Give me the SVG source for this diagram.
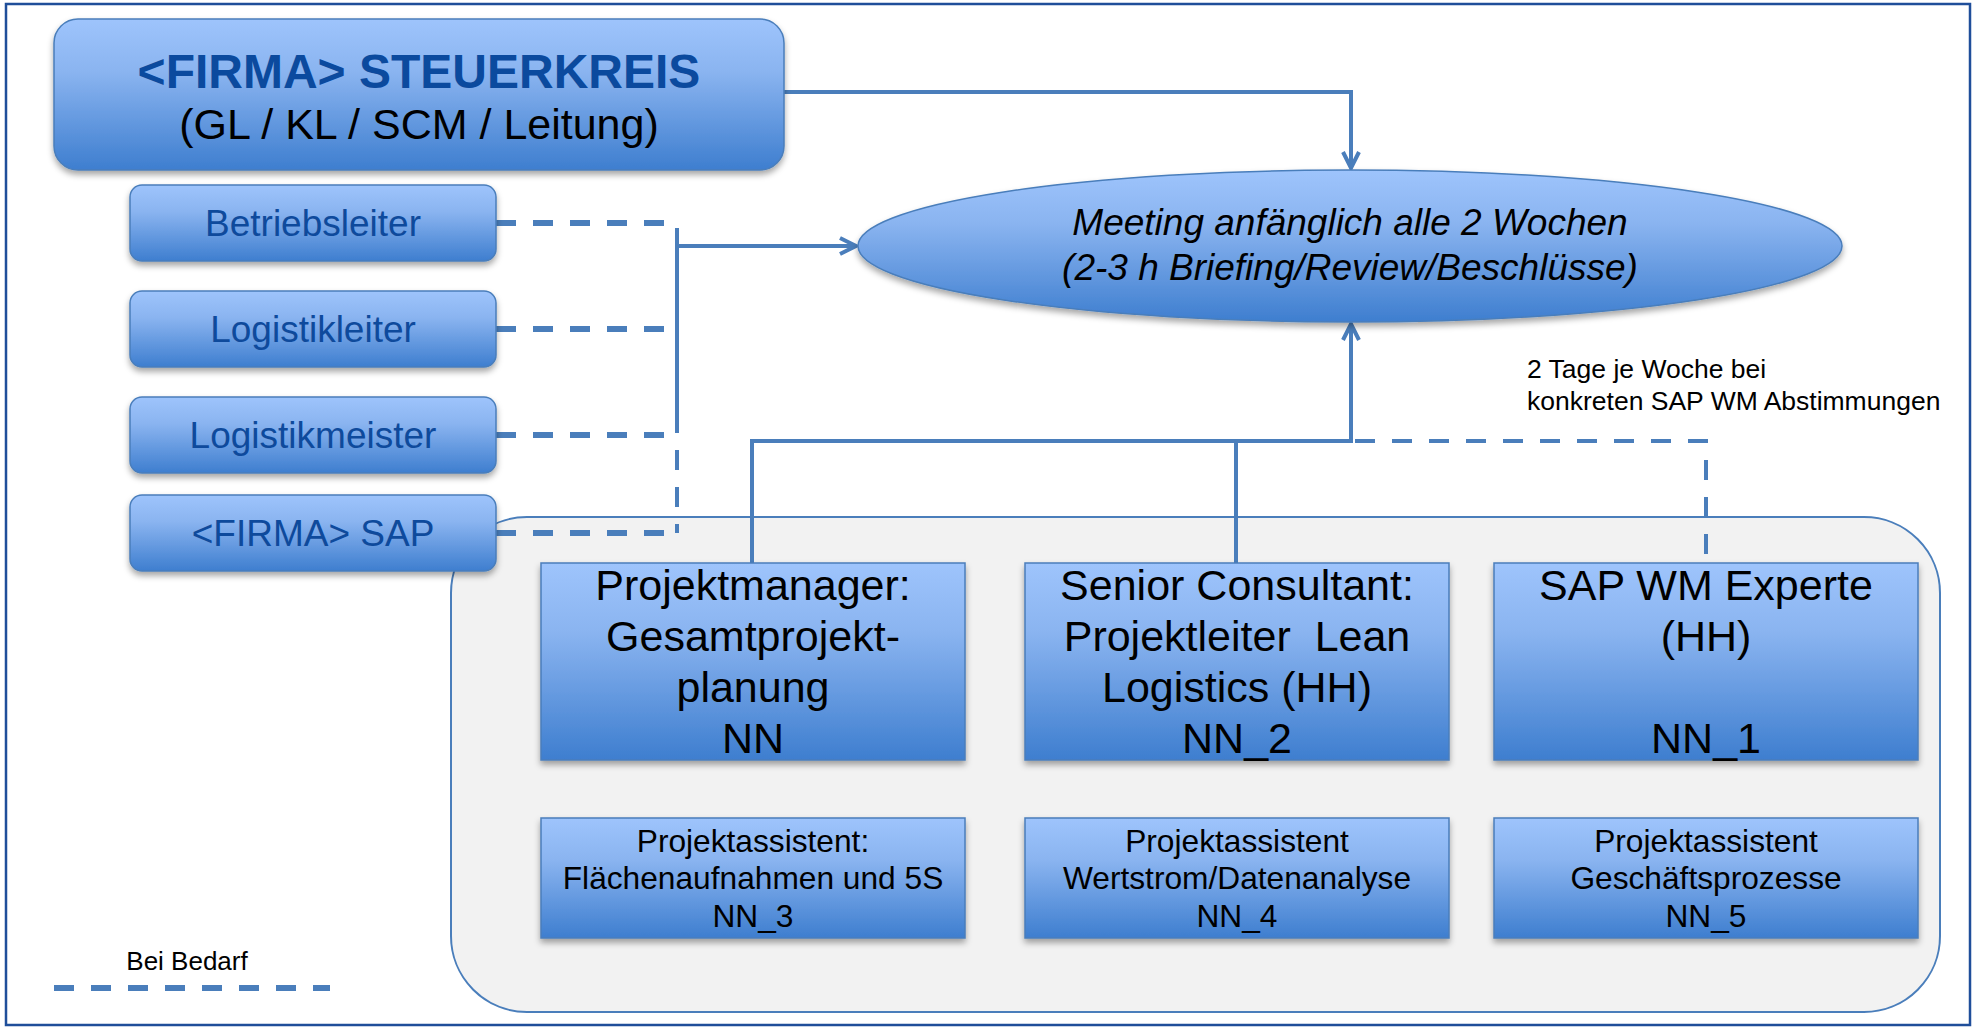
<svg xmlns="http://www.w3.org/2000/svg" width="1976" height="1027" viewBox="0 0 1976 1027">
<defs>
<linearGradient id="gb" x1="0" y1="0" x2="0" y2="1">
<stop offset="0" stop-color="#9EC4FC"/>
<stop offset="0.35" stop-color="#8AB4F0"/>
<stop offset="1" stop-color="#3E7ECF"/>
</linearGradient>
<filter id="sh" x="-10%" y="-10%" width="120%" height="130%">
<feDropShadow dx="0" dy="4" stdDeviation="3" flood-color="#000" flood-opacity="0.35"/>
</filter>
<marker id="arr" viewBox="0 0 20 20" refX="18" refY="10" markerWidth="20" markerHeight="20" markerUnits="userSpaceOnUse" orient="auto">
<path d="M2,2 L18,10 L2,18" fill="none" stroke="#4A7EBB" stroke-width="4"/>
</marker>
<style>
.box{fill:url(#gb);stroke:#4A7EBB;stroke-width:1.5;filter:url(#sh)}
.conn{fill:none;stroke:#4A7EBB;stroke-width:4}
.dash{fill:none;stroke:#4A7EBB;stroke-width:6;stroke-dasharray:20 17}
.dashv{fill:none;stroke:#4A7EBB;stroke-width:4;stroke-dasharray:20 17}
.t{font-family:"Liberation Sans",Arial,sans-serif;text-anchor:middle}
.lb{fill:#0E4A9C;font-size:37px}
.big{fill:#000;font-size:43px}
.small{fill:#000;font-size:31.7px}
</style>
</defs>
<rect x="6" y="4" width="1964" height="1021" fill="#fff" stroke="#1F4E9A" stroke-width="2.5"/>

<g id="container">
<rect x="451" y="517" width="1489" height="495" rx="76" ry="76" fill="#F2F2F2" stroke="#4A7EBB" stroke-width="2"/>
</g>

<g id="connectors">
<polyline class="conn" points="784,92 1351,92 1351,168" marker-end="url(#arr)"/>
<polyline class="dash" points="496,223 665,223"/>
<polyline class="dash" points="496,329 665,329"/>
<polyline class="dash" points="496,435 665,435"/>
<polyline class="dash" points="496,533 665,533"/>
<polyline class="dashv" points="677,228 677,533"/>
<polyline class="conn" points="677,228 677,430" stroke-width="3"/>
<polyline class="conn" points="677,246 856,246" marker-end="url(#arr)"/>
<polyline class="conn" points="752,563 752,441 1351,441 1351,324" marker-end="url(#arr)"/>
<polyline class="conn" points="1236,563 1236,441"/>
<polyline class="dashv" points="1355,441 1706,441 1706,563"/>
<polyline class="dash" points="54,988 330,988"/>
</g>

<g id="steuerkreis">
<rect class="box" x="54" y="19" width="730" height="151" rx="24" ry="24"/>
<text class="t" x="419" y="88" font-size="48" font-weight="bold" fill="#0B4A9E">&lt;FIRMA&gt; STEUERKREIS</text>
<text class="t" x="419" y="139" font-size="43" fill="#000">(GL / KL / SCM / Leitung)</text>
</g>

<g id="meeting">
<ellipse cx="1350" cy="246" rx="492" ry="76" fill="url(#gb)" stroke="#4A7EBB" stroke-width="1.5" filter="url(#sh)"/>
<text class="t" x="1350" y="235" font-size="37" font-style="italic" fill="#000">Meeting anfänglich alle 2 Wochen</text>
<text class="t" x="1350" y="280" font-size="37" font-style="italic" fill="#000">(2-3 h Briefing/Review/Beschlüsse)</text>
</g>

<g id="betriebsleiter">
<rect class="box" x="130" y="185" width="366" height="76" rx="12" ry="12"/>
<text class="t lb" x="313" y="236">Betriebsleiter</text>
</g>
<g id="logistikleiter">
<rect class="box" x="130" y="291" width="366" height="76" rx="12" ry="12"/>
<text class="t lb" x="313" y="342">Logistikleiter</text>
</g>
<g id="logistikmeister">
<rect class="box" x="130" y="397" width="366" height="76" rx="12" ry="12"/>
<text class="t lb" x="313" y="448">Logistikmeister</text>
</g>
<g id="firmasap">
<rect class="box" x="130" y="495" width="366" height="76" rx="12" ry="12"/>
<text class="t lb" x="313" y="546">&lt;FIRMA&gt; SAP</text>
</g>

<g id="note">
<text font-family="Liberation Sans,Arial,sans-serif" font-size="26.5" fill="#000" x="1527" y="378">2 Tage je Woche bei</text>
<text font-family="Liberation Sans,Arial,sans-serif" font-size="26.5" fill="#000" x="1527" y="410">konkreten SAP WM Abstimmungen</text>
</g>

<g id="projektmanager">
<rect class="box" x="541" y="563" width="424" height="197"/>
<text class="t big" x="753" y="600">Projektmanager:</text>
<text class="t big" x="753" y="651">Gesamtprojekt-</text>
<text class="t big" x="753" y="702">planung</text>
<text class="t big" x="753" y="753">NN</text>
</g>
<g id="seniorconsultant">
<rect class="box" x="1025" y="563" width="424" height="197"/>
<text class="t big" x="1237" y="600">Senior Consultant:</text>
<text class="t big" x="1237" y="651" xml:space="preserve">Projektleiter  Lean</text>
<text class="t big" x="1237" y="702">Logistics (HH)</text>
<text class="t big" x="1237" y="753">NN_2</text>
</g>
<g id="sapwm">
<rect class="box" x="1494" y="563" width="424" height="197"/>
<text class="t big" x="1706" y="600">SAP WM Experte</text>
<text class="t big" x="1706" y="651">(HH)</text>
<text class="t big" x="1706" y="753">NN_1</text>
</g>

<g id="assistent3">
<rect class="box" x="541" y="818" width="424" height="120"/>
<text class="t small" x="753" y="852">Projektassistent:</text>
<text class="t small" x="753" y="889">Flächenaufnahmen und 5S</text>
<text class="t small" x="753" y="927">NN_3</text>
</g>
<g id="assistent4">
<rect class="box" x="1025" y="818" width="424" height="120"/>
<text class="t small" x="1237" y="852">Projektassistent</text>
<text class="t small" x="1237" y="889">Wertstrom/Datenanalyse</text>
<text class="t small" x="1237" y="927">NN_4</text>
</g>
<g id="assistent5">
<rect class="box" x="1494" y="818" width="424" height="120"/>
<text class="t small" x="1706" y="852">Projektassistent</text>
<text class="t small" x="1706" y="889">Geschäftsprozesse</text>
<text class="t small" x="1706" y="927">NN_5</text>
</g>

<g id="legend">
<text class="t" x="187" y="970" font-size="26" fill="#000">Bei Bedarf</text>
</g>
</svg>
